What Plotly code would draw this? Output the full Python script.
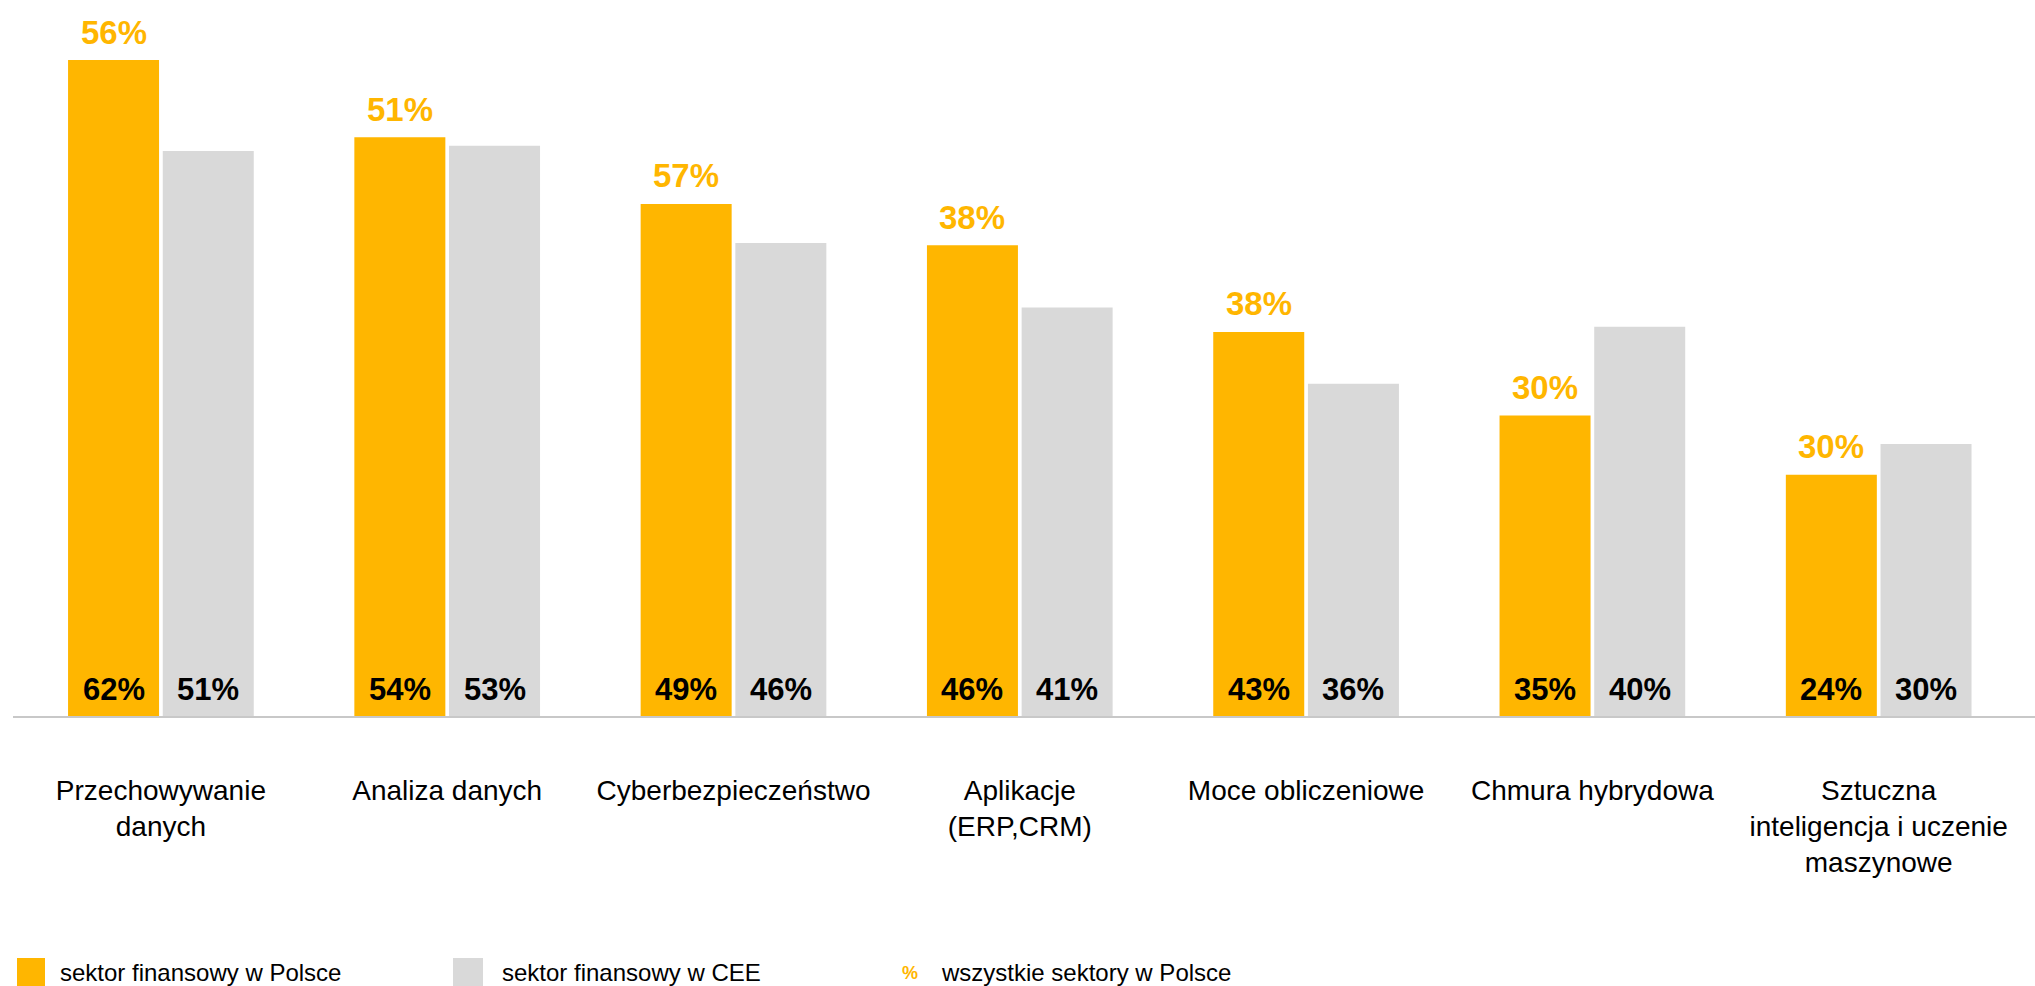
import plotly.graph_objects as go

# ---------------- data ----------------
categories = [
    "Przechowywanie<br>danych",
    "Analiza danych",
    "Cyberbezpieczeństwo",
    "Aplikacje<br>(ERP,CRM)",
    "Moce obliczeniowe",
    "Chmura hybrydowa",
    "Sztuczna<br>inteligencja i uczenie<br>maszynowe",
]
# bar heights as drawn in the picture (percent scale)
fin_pl_height = [62.0, 54.7, 48.4, 44.5, 36.3, 28.4, 22.8]
fin_cee_height = [53.4, 53.9, 44.7, 38.6, 31.4, 36.8, 25.7]
# printed values
fin_pl_value = [62, 54, 49, 46, 43, 35, 24]      # sektor finansowy w Polsce
fin_cee_value = [51, 53, 46, 41, 36, 40, 30]     # sektor finansowy w CEE
all_pl_value = [56, 51, 57, 38, 38, 30, 30]      # wszystkie sektory w Polsce
series_names = ["sektor finansowy w Polsce", "sektor finansowy w CEE", "wszystkie sektory w Polsce"]

# ---------------- style ----------------
ORANGE = "#FFB600"
GRAY = "#D9D9D9"
FONT = "Liberation Sans, Arial, sans-serif"
W, H = 2035, 986
ML, MR, MT, MB = 13, 0, 16, 270
PW, PH = W - ML - MR, H - MT - MB
BAR_OFFSET = 47.35  # px from category centre to each bar centre


def px_x(p):
    return (p - ML) / PW


def px_y(p):
    return (H - MB - p) / PH


fig = go.Figure()
fig.add_trace(go.Bar(x=categories, y=fin_pl_height, name=series_names[0],
                     marker=dict(color=ORANGE, line=dict(width=0)), showlegend=False,
                     hoverinfo="skip"))
fig.add_trace(go.Bar(x=categories, y=fin_cee_height, name=series_names[1],
                     marker=dict(color=GRAY, line=dict(width=0)), showlegend=False,
                     hoverinfo="skip"))

annotations = []
for i, cat in enumerate(categories):
    annotations.append(dict(x=i, y=fin_pl_height[i], xref="x", yref="y",
                            text=f"{all_pl_value[i]}%", showarrow=False,
                            xshift=-BAR_OFFSET, yshift=28, yanchor="middle",
                            font=dict(family=FONT, size=33, color=ORANGE, weight="bold")))
    annotations.append(dict(x=i, y=0, xref="x", yref="y",
                            text=f"{fin_pl_value[i]}%", showarrow=False,
                            xshift=-BAR_OFFSET, yshift=27, yanchor="middle",
                            font=dict(family=FONT, size=31, color="black", weight="bold")))
    annotations.append(dict(x=i, y=0, xref="x", yref="y",
                            text=f"{fin_cee_value[i]}%", showarrow=False,
                            xshift=BAR_OFFSET, yshift=27, yanchor="middle",
                            font=dict(family=FONT, size=31, color="black", weight="bold")))

# custom legend
shapes = [
    dict(type="rect", xref="paper", yref="paper", x0=px_x(17), x1=px_x(45),
         y0=px_y(990), y1=px_y(958), fillcolor=ORANGE, line=dict(width=0)),
    dict(type="rect", xref="paper", yref="paper", x0=px_x(453), x1=px_x(483),
         y0=px_y(990), y1=px_y(958), fillcolor=GRAY, line=dict(width=0)),
]
legend_text_x = [58, 500, 939]
for name, lx in zip(series_names, legend_text_x):
    annotations.append(dict(x=px_x(lx), y=px_y(972), xref="paper", yref="paper",
                            text=name, showarrow=False, xanchor="left", yanchor="middle",
                            font=dict(family=FONT, size=24, color="black")))
annotations.append(dict(x=px_x(910), y=px_y(973), xref="paper", yref="paper",
                        text="%", showarrow=False, xanchor="center", yanchor="middle",
                        font=dict(family=FONT, size=18, color=ORANGE, weight="bold")))

fig.update_layout(
    width=W, height=H,
    margin=dict(l=ML, r=MR, t=MT, b=MB, pad=0),
    paper_bgcolor="white", plot_bgcolor="white",
    barmode="group", bargap=0.3385, bargroupgap=0.039,
    showlegend=False,
    annotations=annotations,
    shapes=shapes,
    font=dict(family=FONT, color="black"),
    xaxis=dict(
        type="category",
        range=[-0.5166, 6.546],
        showline=True, linecolor="#C8C8C8", linewidth=2,
        ticks="outside", ticklen=48, tickcolor="rgba(0,0,0,0)",
        tickfont=dict(family=FONT, size=28, color="black"),
        showgrid=False, zeroline=False, fixedrange=True,
    ),
    yaxis=dict(range=[0, 66.16], visible=False, fixedrange=True),
)

fig.write_html("out.html", post_script="document.body.style.margin='0';",
               config={"displayModeBar": False})
